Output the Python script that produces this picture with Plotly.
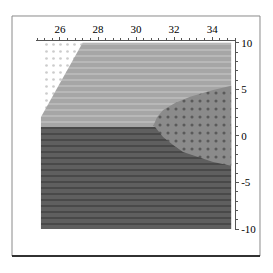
import plotly.graph_objects as go

# Region boundaries (data coordinates)
x_min, x_max = 25.0, 35.0
y_min, y_max = -10.0, 10.0
split_y = 1.0

diag_x = [25.0, 27.19]
diag_y = [2.04, 10.0]

ell_upper_x = [30.9, 31.1, 31.42, 32.05, 32.84, 34.05, 35.0]
ell_upper_y = [1.08, 2.0, 2.8, 3.55, 4.2, 4.95, 5.4]
ell_lower_x = [35.0, 34.05, 33.2, 32.47, 31.95, 31.42, 31.0]
ell_lower_y = [-3.2, -2.8, -2.26, -1.72, -0.97, -0.1, 0.97]

x_ticks = [26, 28, 30, 32, 34]
y_ticks = [10, 5, 0, -5, -10]
y_tick_labels = ["10", "5", "0", "-5", "-10"]

fig = go.Figure()

# background dotted region
fig.add_trace(go.Scatter(
    x=[x_min, x_max, x_max, x_min, x_min],
    y=[y_min, y_min, y_max, y_max, y_min],
    fill="toself", mode="lines", line=dict(width=0),
    fillcolor="white",
    fillpattern=dict(shape=".", bgcolor="white", fgcolor="#9a9a9a", size=7, solidity=0.12),
    hoverinfo="skip", showlegend=False))

# light striped region
fig.add_trace(go.Scatter(
    x=[diag_x[0], diag_x[1], x_max, x_max, x_min, diag_x[0]],
    y=[diag_y[0], diag_y[1], y_max, split_y, split_y, diag_y[0]],
    fill="toself", mode="lines", line=dict(width=0),
    fillpattern=dict(shape="-", bgcolor="#a6a6a6", fgcolor="#cfcfcf", size=6, solidity=0.3),
    hoverinfo="skip", showlegend=False))

# dark striped region
fig.add_trace(go.Scatter(
    x=[x_min, x_max, x_max, x_min, x_min],
    y=[split_y, split_y, y_min, y_min, split_y],
    fill="toself", mode="lines", line=dict(width=0),
    fillpattern=dict(shape="-", bgcolor="#5f5f5f", fgcolor="#2e2e2e", size=6, solidity=0.3),
    hoverinfo="skip", showlegend=False))

# medium dotted (ellipse-like) region
fig.add_trace(go.Scatter(
    x=ell_upper_x + ell_lower_x + [ell_upper_x[0]],
    y=ell_upper_y + ell_lower_y + [ell_upper_y[0]],
    fill="toself", mode="lines", line=dict(width=0),
    fillpattern=dict(shape=".", bgcolor="#8b8b8b", fgcolor="#2a2a2a", size=8, solidity=0.12),
    hoverinfo="skip", showlegend=False))

font = dict(family="Liberation Serif, Times New Roman, serif", size=11, color="black")

fig.update_layout(
    width=265, height=265,
    margin=dict(l=28, r=38, t=33, b=43),
    paper_bgcolor="white", plot_bgcolor="white",
    font=font,
    xaxis=dict(
        side="top", range=[24.74, 35.2], showgrid=False, zeroline=False,
        showline=True, linecolor="#555", linewidth=1,
        tickvals=x_ticks, ticks="outside", ticklen=3, tickcolor="#555",
        minor=dict(dtick=0.4, tick0=26, ticks="outside", ticklen=2, tickcolor="#555"),
        tickfont=font, fixedrange=True, automargin=False),
    yaxis=dict(
        side="right", range=[-10.1, 10.2], showgrid=False, zeroline=False,
        showline=True, linecolor="#555", linewidth=1,
        tickvals=y_ticks, ticktext=y_tick_labels, ticks="outside", ticklen=3, tickcolor="#555",
        minor=dict(dtick=1, tick0=0, ticks="outside", ticklen=2, tickcolor="#555"),
        tickfont=font, fixedrange=True, automargin=False),
    shapes=[
        dict(type="rect", xref="paper", yref="paper",
             x0=-0.1206, x1=1.1256, y0=-0.1376, y1=1.1323,
             line=dict(color="#8a8a8a", width=1)),
        dict(type="line", xref="paper", yref="paper",
             x0=-0.1206, x1=1.1256, y0=-0.1376, y1=-0.1376,
             line=dict(color="black", width=1.5)),
    ],
)

fig.write_html("out.html")
